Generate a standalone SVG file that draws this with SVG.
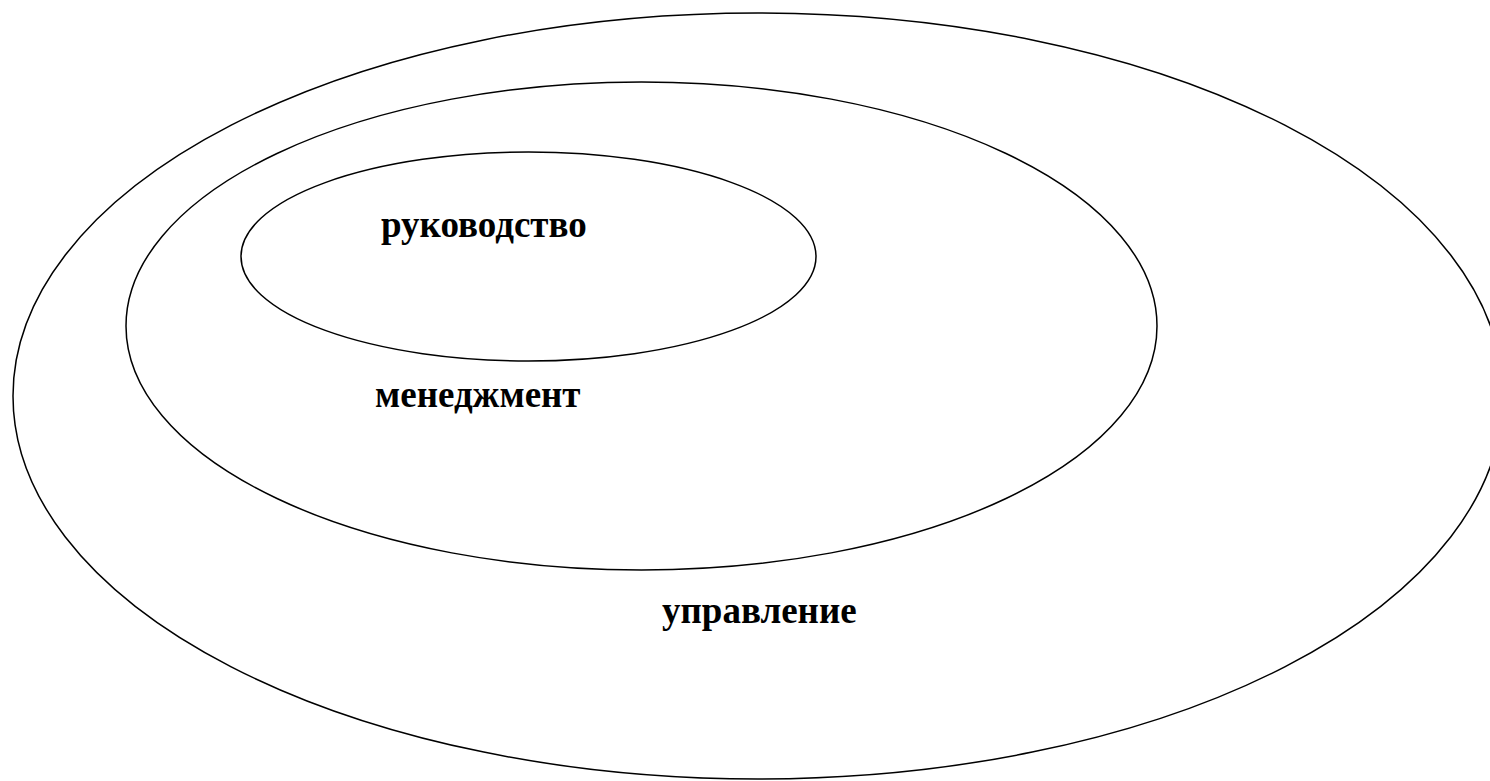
<svg xmlns="http://www.w3.org/2000/svg" width="1490" height="781" viewBox="0 0 1490 781">
<style>
.ring{fill:none;stroke:#000;stroke-width:1.5}
.lbl{font-family:"Liberation Serif","Times New Roman",serif;font-weight:bold;font-size:37px;fill:#000}
</style>
<rect width="1490" height="781" fill="#fff"/>
<g id="upravlenie">
<ellipse class="ring" cx="758" cy="396" rx="745" ry="383"/>
<text class="lbl" x="662" y="623">управление</text>
</g>
<g id="menedzhment">
<ellipse class="ring" cx="641.5" cy="326" rx="515.5" ry="244"/>
<text class="lbl" x="375" y="407">менеджмент</text>
</g>
<g id="rukovodstvo">
<ellipse class="ring" cx="528.5" cy="256.5" rx="287.5" ry="104.5"/>
<text class="lbl" x="381" y="237">руководство</text>
</g>
<g id="connectors"/>
</svg>
